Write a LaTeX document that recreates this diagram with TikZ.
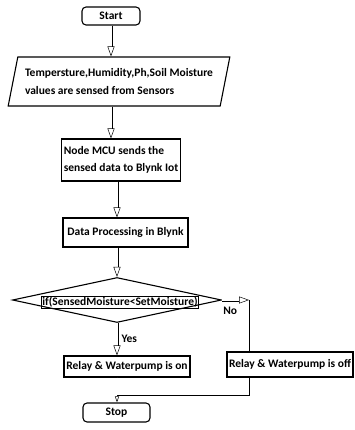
\documentclass[tikz,border=0pt]{standalone}
\usepackage{fontspec}
\setmainfont{Carlito}
\usetikzlibrary{shapes,arrows.meta,positioning,calc}

\begin{document}
\begin{tikzpicture}[
  x=1pt,y=-1pt,
  font=\bfseries\fontsize{11.5}{17.5}\selectfont,
  boxstyle/.style={rectangle,draw,line width=1.1pt,inner sep=2pt},
  endstyle/.style={rectangle,rounded corners=4pt,draw,line width=1.1pt},
  flow/.style={line width=0.5pt,double,double distance=2pt,-{Triangle[open,length=10pt,width=7pt]}},
  smallflow/.style={line width=0.5pt,double,double distance=1.2pt,-{Triangle[open,length=6pt,width=4pt]}},
  plain/.style={draw,line width=1.1pt}
]
\useasboundingbox (0,0) rectangle (354,430) ;

\node [endstyle,minimum width=58pt,minimum height=18pt] (start) at (111,16) {Start} ;
\node [trapezium,trapezium left angle=74,trapezium right angle=106,trapezium stretches=true,
  draw,line width=1.1pt,minimum width=222pt,minimum height=49pt,align=left] (sense) at (119,81.5)
  {Tempersture,Humidity,Ph,Soil Moisture\\values are sensed from Sensors} ;
\node [boxstyle,minimum width=115pt,minimum height=42pt,align=left] (mcu) at (121,160)
  {Node MCU sends the\\sensed data to Blynk Iot} ;
\node [boxstyle,minimum width=125pt,minimum height=29pt] (proc) at (125.5,232.5) {Data Processing in Blynk} ;
\node [diamond,draw,line width=1.1pt,minimum width=209pt,minimum height=45pt,inner sep=0pt] (dec) at (117,300) { } ;
\node [rectangle,draw,line width=0.5pt,inner sep=1pt] (cond) at (120,302) {if(SensedMoisture<SetMoisture)} ;
\node [boxstyle,minimum width=126pt,minimum height=21pt] (on) at (127,366.5) {Relay \& Waterpump is on} ;
\node [boxstyle,minimum width=126pt,minimum height=25pt] (off) at (290,364.5) {Relay \& Waterpump is off} ;
\node [endstyle,minimum width=67pt,minimum height=19pt] (stop) at (116.5,412.5) {Stop} ;

\coordinate [right=27pt of dec.east] (turn) ;
\coordinate (join) at ($(dec |- on.south)+(0,18)$) ;

\draw [flow] (start) -- (start |- sense.north) ;
\draw [flow] (start |- sense.south) -- (start |- mcu.north) ;
\draw [flow] (dec |- mcu.south) -- (dec |- proc.north) ;
\draw [flow] (dec |- proc.south) -- (dec.north) ;
\draw [flow] (dec.south) -- (dec |- on.north) node [midway,right=1pt] (yes) {Yes} ;
\draw [flow] (dec.east) -- (turn) node [pos=0.3,below=3pt] (no) {No} ;
\draw [plain] (turn) -- (turn |- off.north) ;
\draw [smallflow] (dec |- on.south) -- (dec |- stop.north) ;
\draw [plain] (turn |- off.south) |- (join) ;

\end{tikzpicture}
\end{document}
